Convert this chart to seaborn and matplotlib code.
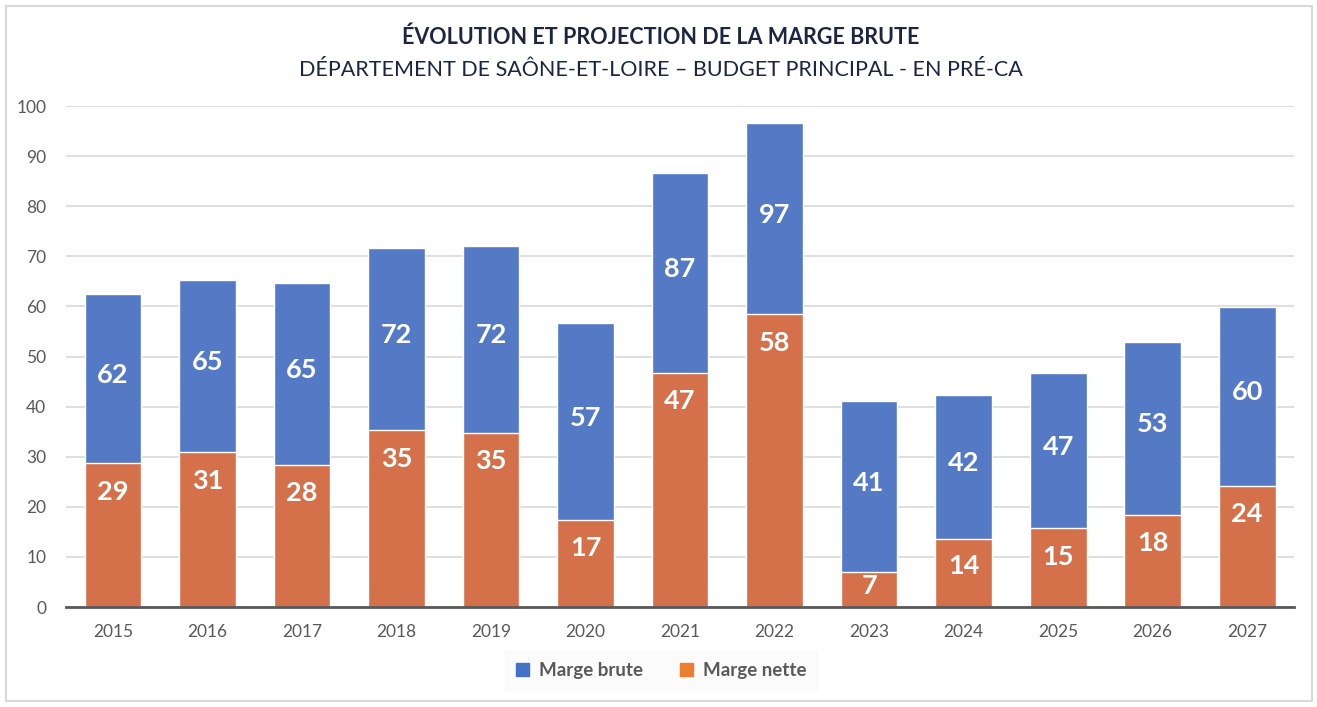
import numpy as np
import pandas as pd
import seaborn as sns
import matplotlib.pyplot as plt
from matplotlib.patches import Patch, Rectangle

# values (millions)
years = ["2015", "2016", "2017", "2018", "2019", "2020", "2021",
         "2022", "2023", "2024", "2025", "2026", "2027"]
marge_brute = [62.4, 65.2, 64.6, 71.6, 72.1, 56.6, 86.6,
               96.6, 41.1, 42.4, 46.7, 53.0, 59.9]
marge_nette = [28.7, 30.9, 28.4, 35.3, 34.8, 17.4, 46.8,
               58.4, 6.9, 13.5, 15.7, 18.4, 24.2]
brute_labels = [62, 65, 65, 72, 72, 57, 87, 97, 41, 42, 47, 53, 60]
nette_labels = [29, 31, 28, 35, 35, 17, 47, 58, 7, 14, 15, 18, 24]

df = pd.DataFrame({"annee": years, "brute": marge_brute, "nette": marge_nette})

sns.set_style("white")
plt.rcParams["font.family"] = ["Lato", "DejaVu Sans"]

blue = "#5479C5"
orange = "#D5714A"
grey_txt = "#595959"

fig = plt.figure(figsize=(13.17, 7.07), dpi=100)
ax = fig.add_axes([0.0499, 0.1414, 0.9330, 0.7086])

sns.barplot(data=df, x="annee", y="brute", color=blue, width=0.6,
            saturation=1, ax=ax, zorder=2)
sns.barplot(data=df, x="annee", y="nette", color=orange, width=0.6,
            saturation=1, ax=ax, zorder=3)

# labels: brute in the middle of the blue part, nette near the top of the orange bar
for i in range(len(years)):
    b, n = marge_brute[i], marge_nette[i]
    ax.text(i, (b + n) / 2 + 0.8, str(brute_labels[i]), ha="center", va="center",
            color="white", fontsize=19.5, fontweight="bold", zorder=5)
    yn = max(n - 5.7, n * 0.6)
    ax.text(i, yn, str(nette_labels[i]), ha="center", va="center",
            color="white", fontsize=19.5, fontweight="bold", zorder=5)

ax.set_xlim(-0.5, len(years) - 0.5)
ax.set_ylim(0, 100)
ax.set_yticks(range(0, 101, 10))
ax.yaxis.grid(True, color="#D9D9D9", linewidth=1.2, zorder=0)
ax.set_axisbelow(True)
ax.set_xlabel("")
ax.set_ylabel("")
for s in ["top", "right", "left"]:
    ax.spines[s].set_visible(False)
ax.spines["bottom"].set_color(grey_txt)
ax.spines["bottom"].set_linewidth(2)
ax.spines["bottom"].set_zorder(6)
ax.tick_params(axis="both", length=0, labelsize=12.5, colors=grey_txt)
ax.tick_params(axis="x", pad=12)
ax.tick_params(axis="y", pad=14)

fig.text(0.502, 0.948, "ÉVOLUTION ET PROJECTION DE LA MARGE BRUTE",
         ha="center", va="center", fontsize=15.5, fontweight="bold",
         color="#1C2541")
fig.text(0.502, 0.901, "DÉPARTEMENT DE SAÔNE-ET-LOIRE – BUDGET PRINCIPAL - EN PRÉ-CA",
         ha="center", va="center", fontsize=15.5, color="#1C2541")

handles = [Patch(color="#4472C4", label="Marge brute"),
           Patch(color="#ED7D31", label="Marge nette")]
leg = fig.legend(handles=handles, loc="center", bbox_to_anchor=(0.502, 0.0516),
                 ncol=2, frameon=True, fontsize=13.5, handlelength=0.7,
                 handleheight=0.7, handletextpad=0.5, columnspacing=2.0,
                 borderpad=0.6, fancybox=False)
leg.get_frame().set_facecolor("#FAFAFA")
leg.get_frame().set_edgecolor("#FAFAFA")
for t in leg.get_texts():
    t.set_color(grey_txt)
    t.set_fontweight("bold")

fig.patches.append(Rectangle((6 / 1317, 6 / 707), 1306 / 1317, 695 / 707,
                             transform=fig.transFigure, fill=False,
                             edgecolor="#D9D9D9", linewidth=1.5))

fig.savefig("out.png", dpi=100)
